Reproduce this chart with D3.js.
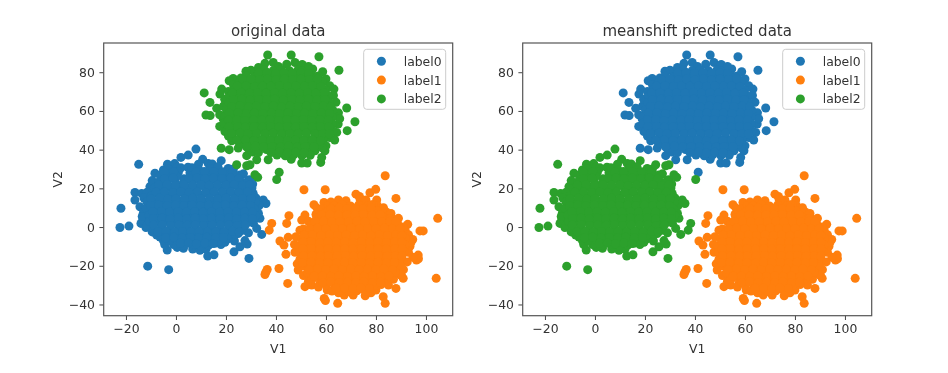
<!DOCTYPE html>
<html>
<head>
<meta charset="utf-8">
<script src="https://cdn.jsdelivr.net/npm/d3@7"></script>
<style>
body { margin: 0; background: #fff; }
svg { filter: blur(0.35px); }
text { font-family: "DejaVu Sans", sans-serif; fill: #333; }
</style>
</head>
<body>
<svg id="chart" width="948" height="373"></svg>
<script>
const xTicks = [-20, 0, 20, 40, 60, 80, 100];
const yTicks = [-40, -20, 0, 20, 40, 60, 80];
const labels = ["label0", "label1", "label2"];
const blueCol = "#1f77b4", orangeCol = "#ff7f0e", greenCol = "#2ca02c";

// values, blob edge first and then the dense middle row by row
const blobA = [
[-14.9,32.4],[-22,9.7],[-22.4,-0.2],[-18.8,0.5],[-11.3,-20.2],[-2.9,-22],[29.2,-16.2],[8,40.3],[2,36],[4.9,37.2],[10.7,35],[12.9,32.9],[18.1,34.3],
[-8.4,27.8],[-10.4,20.9],[-16.4,17.9],[-16.4,14],[-13.7,17.4],[-14.4,10.5],[-11,10],[-13.3,3.6],[-14,1.9],[-12,-0.2],[-7.7,-4.1],[-6.4,-5.2],[-3.5,-11.9],[0.5,-10.5],[6.7,-11.4],[9.6,-12],[12.7,-15],[15.2,-14.3],[15.6,-8.4],[19.6,-7.9],[23.2,-12.8],[25.6,-10.2],[28.5,-8.8],[27.6,-7],[24.9,-3.3],[27.2,-1.6],[34.3,-3.8],[32.3,-0.7],[33.6,4.5],[34.9,14],[36,12.2],[30.7,22.2],[30.9,17.4],[25.6,26.9],[20.9,30.3],[-1.7,31.2],[-5,29.5],[-6.4,22.6],[-9.7,16.6],[23.4,-7.2],[31.6,8.1],[33.2,11],
[-9.5,24],[-11.5,18],[-12.8,15],[-13,7.5],[-13.5,5.5],[-11.5,1],[-9.5,-2.5],[-5,-7],[-4.5,-9],[-1,-9],[3,-11],[12,-11.5],[18,-9],[21,-6],[29,-3],[31,2],[33,7],[32,15],[29.5,24.5],[27,27.5],[23,30],[14.5,32.6],[9,32.5],[-0.5,32.8],[-3.4,32.5],
[-3.1,30.2],[0.4,30.9],[2,30.6],[4.8,30.9],[1,28.4],[5.6,28],[3.2,25],[6.4,30.6],[9.2,29.7],[13.6,30.1],[16.8,31.2],[21.3,29.4],
[-6.3,26.8],[-2.5,27.4],[0.3,26.2],[6.9,26.9],[10.1,27.2],[13.2,26.4],[16.7,27.3],[20.2,26.8],[23.4,27.1],
[-6.8,23.4],[-3.4,23.9],[-0.1,22.8],[3.2,23.7],[6.6,23.1],[9.9,23.8],[13.1,22.9],[16.4,23.6],[19.9,23.2],[23.1,23.9],[26.4,23.1],[28.9,24.1],
[-8.6,20.1],[-5.2,19.7],[-1.9,20.4],[1.4,19.6],[4.9,20.2],[8.1,19.6],[11.6,20.4],[14.9,19.8],[18.2,20.3],[21.6,19.6],[24.9,20.4],[28.1,19.7],[30.4,20.2],
[-9.8,16.2],[-6.4,16.8],[-3.1,16.1],[0.2,16.9],[3.6,16.2],[6.9,16.8],[10.2,16.3],[13.6,16.9],[16.9,16.1],[20.3,16.7],[23.6,16.2],[26.9,16.8],[30.1,16.1],
[-11.6,13.1],[-8.3,12.8],[-4.9,13.4],[-1.6,12.7],[1.8,13.3],[5.1,12.8],[8.4,13.4],[11.8,12.7],[15.1,13.2],[18.4,12.9],[21.8,13.4],[25.2,12.7],[28.4,13.2],[31.7,12.9],
[-11.9,9.6],[-8.6,9.2],[-5.2,9.9],[-1.9,9.3],[1.4,9.8],[4.8,9.2],[8.1,9.7],[11.4,9.3],[14.8,9.9],[18.1,9.4],[21.4,9.7],[24.8,9.2],[28.1,9.8],[31.4,9.4],
[-10.8,6.1],[-7.4,5.8],[-4.1,6.4],[-0.8,5.7],[2.6,6.2],[5.9,5.8],[9.2,6.3],[12.6,5.7],[15.9,6.2],[19.2,5.9],[22.6,6.4],[25.9,5.7],[29.2,6.1],[31.9,5.8],
[-10.6,2.9],[-7.2,2.4],[-3.9,3.1],[-0.6,2.6],[2.8,3],[6.1,2.4],[9.4,2.9],[12.8,2.5],[16.1,3.1],[19.4,2.6],[22.8,2.9],[26.1,2.4],[29.4,2.8],
[-8.9,-0.9],[-5.6,-0.4],[-2.2,-1.1],[1.1,-0.5],[4.4,-0.9],[7.8,-0.4],[11.1,-1],[14.4,-0.6],[17.8,-0.9],[21.1,-0.4],[24.4,-1],[26.6,-0.6],
[-5.8,-4.1],[-2.4,-3.7],[0.9,-4.2],[4.2,-3.6],[7.6,-4.1],[10.9,-3.7],[14.2,-4.2],[17.6,-3.8],[20.9,-4.1],[23.6,-3.6],
[-2.8,-7.1],[0.6,-6.8],[3.9,-7.3],[7.2,-6.9],[10.6,-7.2],[13.9,-6.8],[17.2,-7.1],
[3.1,-9.6],[6.4,-9.1],[9.8,-9.8],[13.1,-9.3],
[-4.7,28.5],[-0.9,28.6],[8,28.4],[11.4,28.7],[15.2,28.5],[18.6,28.6],[22.6,28.3],
[-4.6,25],[-1.1,25.2],[5.2,25],[8.4,25.3],[11.6,24.9],[15,25.2],[18.4,25],[21.8,25.3],[25,24.9],
[-7,21.7],[-3.5,21.9],[-0.2,21.5],[3.3,21.8],[6.7,21.6],[10,21.9],[13.3,21.5],[16.6,21.8],[20,21.6],[23.3,21.9],[26.6,21.5],[29.4,21.8],
[-8,18],[-4.6,18.2],[-1.3,17.8],[2,18.1],[5.3,17.9],[8.6,18.2],[12,17.8],[15.3,18.1],[18.6,17.9],[22,18.2],[25.3,17.8],[28.6,18.1],
[-10,14.7],[-6.6,14.9],[-3.3,14.5],[0,14.8],[3.4,14.6],[6.7,14.9],[10,14.5],[13.4,14.8],[16.7,14.6],[20,14.9],[23.4,14.5],[26.7,14.8],[30,14.6],
[-10.2,11.2],[-6.9,11.4],[-3.5,11],[-0.2,11.3],[3.1,11.1],[6.5,11.4],[9.8,11],[13.1,11.3],[16.5,11.1],[19.8,11.4],[23.1,11],[26.5,11.3],[29.8,11.1],
[-9.2,7.8],[-5.8,8],[-2.5,7.6],[0.8,7.9],[4.2,7.7],[7.5,8],[10.8,7.6],[14.2,7.9],[17.5,7.7],[20.8,8],[24.2,7.6],[27.5,7.9],[30.6,7.7],
[-9,4.4],[-5.6,4.6],[-2.3,4.2],[1,4.5],[4.3,4.3],[7.6,4.6],[11,4.2],[14.3,4.5],[17.6,4.3],[21,4.6],[24.3,4.2],[27.6,4.5],[30.6,4.3],
[-9,1],[-5.4,1.2],[-2.1,0.8],[1.1,1.1],[4.5,0.9],[7.8,1.2],[11.1,0.8],[14.5,1.1],[17.8,0.9],[21.1,1.2],[24.5,0.8],[27.8,1.1],
[-7.2,-2.4],[-3.9,-2.2],[-0.6,-2.6],[2.7,-2.3],[6,-2.5],[9.3,-2.2],[12.7,-2.6],[16,-2.3],[19.3,-2.5],[22.6,-2.2],[25.3,-2.6],
[-4.1,-5.5],[-0.8,-5.3],[2.4,-5.7],[5.9,-5.4],[9.1,-5.6],[12.4,-5.3],[15.8,-5.7],[19,-5.4],
[1.8,-8.4],[5,-8.2],[8.2,-8.6],[11.6,-8.3],[14.8,-8.5]
];

const blobB = [
[83.7,26.5],[51.2,19.3],[59.7,19.3],[72,17],[73.4,15.8],[77.6,17.7],[79.9,19.5],[88,14.8],[80.3,14],[80.5,11.2],[55.2,11.5],[56.4,9.8],[59.2,12.7],[74.9,12.7],[73.6,14.6],[84,7.9],[82.4,8.6],[104.7,4.5],[45.2,5.9],[44.3,1.9],[51.6,6.2],[50.3,3.6],[49.6,-1.6],[44.9,-5.3],[41.6,-7.2],[43.2,-9.3],[44,-14.1],[41.2,-21.4],[36.5,-21.9],[35.6,-24.5],[36,-23.2],[44.7,-29.1],[48.9,-22.2],[51.6,-30.8],[54.3,-30],[57.6,-29.1],[59.3,-36.9],[59.8,-38],[64.7,-39.4],[67.3,-35.1],[70.9,-35.1],[75.7,-35.5],[82.9,-36],[83.7,-39.4],[88,-31.7],[90.9,-26.5],[90.2,-25],[104.1,-26.5],[96.9,-14.5],[96.2,-17],[94.7,-6.4],[93.6,-10],[97.6,-2],[98.9,-2],[92.7,1.4],[91.7,-1.6],[86.9,4],[88.6,1.9],[97,-16.4],[94.8,-15.6],
[62,13],[65,14],[68,13.6],[76,14],[79,11.5],[83,10],[86,7],[89,4.5],[91,0],[93,-4],[94,-8],[93,-13],[92.5,-18],[91,-22],[89.5,-24.5],[87,-27],[85,-30],[80,-32.5],[78,-34],[65,-34],[60.5,-32.5],[57,-31],[53,-28],[51,-25],[48.5,-19],[47.6,-13],[47.4,-9],[48,-5],[51,-1],[53,3],[56,6.5],[58.5,9.5],[61,11],
[63.2,11.2],[66.4,11.6],[69.8,10.9],[73.1,11.4],[76.6,10.8],[78.2,11.5],
[60.4,8.1],[63.8,7.8],[67.1,8.4],[70.4,7.9],[73.8,8.3],[77.1,7.7],[80.6,8.2],
[56.3,4.7],[59.6,4.2],[62.9,4.8],[66.2,4.3],[69.6,4.9],[72.9,4.2],[76.2,4.7],[79.6,4.3],[82.9,4.8],[85.6,4.4],
[54.2,1.2],[57.6,0.7],[60.9,1.3],[64.2,0.8],[67.6,1.2],[70.9,0.7],[74.2,1.3],[77.6,0.8],[80.9,1.2],[84.2,0.7],[87.6,1.1],[89.1,0.6],
[52.4,-2.6],[55.8,-2.2],[59.1,-2.8],[62.4,-2.3],[65.8,-2.7],[69.1,-2.2],[72.4,-2.8],[75.8,-2.4],[79.1,-2.7],[82.4,-2.2],[85.8,-2.6],[89.4,-2.3],
[50.3,-6.1],[53.6,-5.7],[56.9,-6.2],[60.3,-5.8],[63.6,-6.3],[66.9,-5.7],[70.3,-6.2],[73.6,-5.8],[76.9,-6.1],[80.3,-5.7],[83.6,-6.3],[86.9,-5.8],[90.1,-6.2],[91.8,-5.9],
[49.2,-9.7],[52.6,-9.2],[55.9,-9.8],[59.2,-9.3],[62.6,-9.7],[65.9,-9.2],[69.2,-9.8],[72.6,-9.4],[75.9,-9.6],[79.2,-9.2],[82.6,-9.8],[85.9,-9.3],[89.2,-9.7],[91.6,-9.2],
[49.4,-13.1],[52.8,-12.7],[56.1,-13.3],[59.4,-12.8],[62.8,-13.2],[66.1,-12.7],[69.4,-13.3],[72.8,-12.9],[76.1,-13.1],[79.4,-12.7],[82.8,-13.3],[86.1,-12.8],[89.4,-13.2],[91.2,-12.7],
[49.6,-16.6],[52.9,-16.2],[56.2,-16.7],[59.6,-16.3],[62.9,-16.8],[66.2,-16.2],[69.6,-16.7],[72.9,-16.3],[76.2,-16.6],[79.6,-16.2],[82.9,-16.8],[86.2,-16.3],[89.6,-16.7],
[51.4,-20.2],[54.7,-19.8],[58.1,-20.3],[61.4,-19.9],[64.7,-20.4],[68.1,-19.8],[71.4,-20.2],[74.7,-19.9],[78.1,-20.3],[81.4,-19.8],[84.7,-20.2],[88.1,-19.9],[90,-20.4],
[52.6,-23.6],[55.9,-23.2],[59.2,-23.8],[62.6,-23.3],[65.9,-23.7],[69.2,-23.2],[72.6,-23.8],[75.9,-23.4],[79.2,-23.6],[82.6,-23.2],[85.9,-23.8],[87.8,-23.3],
[54.4,-27.1],[57.7,-26.7],[61.1,-27.2],[64.4,-26.8],[67.7,-27.3],[71.1,-26.7],[74.4,-27.2],[77.7,-26.8],[81.1,-27.1],[84.1,-26.7],
[60.2,-30.2],[63.6,-29.8],[66.9,-30.3],[70.2,-29.9],[73.6,-30.4],[76.9,-29.8],[80.2,-30.2],[82.1,-29.7],
[62.4,-33.1],[65.7,-32.8],[69.1,-33.3],[72.4,-32.9],[75.7,-33.2],
[62,9.6],[65.2,9.8],[68.4,9.4],[71.8,9.7],[75,9.5],[78,9.8],
[58.2,6.3],[61.6,6.5],[65,6.1],[68.4,6.4],[71.6,6.2],[75,6.5],[78.4,6.1],[81.6,6.4],
[55.6,2.8],[59,3],[62.4,2.6],[65.6,2.9],[69,2.7],[72.4,3],[75.6,2.6],[79,2.9],[82.4,2.7],[85.6,3],[88,2.6],
[53.4,-0.8],[56.6,-0.6],[60,-1],[63.4,-0.7],[66.6,-0.9],[70,-0.6],[73.4,-1],[76.6,-0.7],[80,-0.9],[83.4,-0.6],[86.6,-1],[89.6,-0.7],
[51.2,-4.2],[54.6,-4],[58,-4.4],[61.4,-4.1],[64.6,-4.3],[68,-4],[71.4,-4.4],[74.6,-4.1],[78,-4.3],[81.4,-4],[84.6,-4.4],[88,-4.1],[90.4,-4.3],
[50.8,-7.8],[54.2,-7.6],[57.6,-8],[60.8,-7.7],[64.2,-7.9],[67.6,-7.6],[70.8,-8],[74.2,-7.7],[77.6,-7.9],[80.8,-7.6],[84.2,-8],[87.6,-7.7],[90.4,-7.9],
[50.8,-11.3],[54.2,-11.1],[57.6,-11.5],[60.8,-11.2],[64.2,-11.4],[67.6,-11.1],[70.8,-11.5],[74.2,-11.2],[77.6,-11.4],[80.8,-11.1],[84.2,-11.5],[87.6,-11.2],[90.4,-11.4],
[51,-14.9],[54.4,-14.7],[57.8,-15.1],[61,-14.8],[64.4,-15],[67.8,-14.7],[71,-15.1],[74.4,-14.8],[77.8,-15],[81,-14.7],[84.4,-15.1],[87.8,-14.8],[90.4,-15],
[50.6,-18.4],[54,-18.2],[57.4,-18.6],[60.8,-18.3],[64.2,-18.5],[67.4,-18.2],[70.8,-18.6],[74.2,-18.3],[77.4,-18.5],[80.8,-18.2],[84.2,-18.6],[87.4,-18.3],
[53.2,-21.9],[56.6,-21.7],[60,-22.1],[63.2,-21.8],[66.6,-22],[70,-21.7],[73.2,-22.1],[76.6,-21.8],[80,-22],[83.2,-21.7],[86.6,-22.1],
[55.2,-25.4],[58.6,-25.2],[62,-25.6],[65.2,-25.3],[68.6,-25.5],[72,-25.2],[75.2,-25.6],[78.6,-25.3],[82,-25.5],[85.2,-25.2],
[58.8,-28.6],[62,-28.4],[65.2,-28.8],[68.6,-28.5],[72,-28.7],[75.2,-28.4],[78.6,-28.8],[81.8,-28.5],
[64,-31.6],[67.4,-31.4],[70.8,-31.8],[74,-31.5],[77.4,-31.7]
];

const blobC = [
[36.7,88.9],[46.1,88.9],[57.2,88],[65.2,81],[58.7,80.3],[54.7,81.7],[63.2,71.3],[68.3,61.5],[71.6,54.4],[68.5,49.8],[11.3,69.3],[13.6,64.4],[12,57.9],[13.7,57.6],[17.6,68.7],[22.9,76.8],[21.3,75.6],[18.3,71.3],[16.3,61.4],[18.1,40.7],[21.3,40],[24.9,40.8],[28.3,36.9],[32.3,34.8],[41.3,28.3],[36.9,34.8],[46.1,35],[50.3,33.1],[52.5,33.1],[57.9,33.4],[58.3,36],[55.6,39.4],[59.6,39.4],[35.6,84.6],[38.9,85],[47.6,85],[44.3,84.1],[63.6,57.5],[64.9,53.2],[64.3,48.9],[61.6,46.3],[58.9,44.6],[18.9,55.8],[19.6,49.4],[22.3,44.6],[30.6,38.8],[33.1,41.2],[26.4,72.8],
[30,81],[33,82.5],[41,83],[50.5,84],[53,83],[57,78],[60,76.5],[61.5,73],[63,68],[64,64.5],[65,59],[65.5,56],[63.5,45],[60,42],[58.5,41],[33,38.5],[29,40.5],[25.5,43],[21,47],[17.5,52],[17.5,58],[19,62.5],[19.5,66],[21,70],[23,73.5],[26,77],[28,80.5],
[35.4,81.1],[38.8,80.7],[42.1,81.3],[45.4,80.8],[48.8,81.2],[50.4,80.6],
[28.1,78.1],[31.4,77.7],[34.8,78.3],[38.1,77.8],[41.4,78.2],[44.8,77.7],[48.1,78.3],[51.4,77.9],[54.8,78.1],[56.2,77.6],
[25.3,74.6],[28.6,74.2],[31.9,74.8],[35.3,74.3],[38.6,74.7],[41.9,74.2],[45.3,74.8],[48.6,74.4],[51.9,74.6],[55.3,74.2],[58.6,74.8],
[23.2,71.1],[26.6,70.7],[29.9,71.3],[33.2,70.8],[36.6,71.2],[39.9,70.7],[43.2,71.3],[46.6,70.9],[49.9,71.1],[53.2,70.7],[56.6,71.3],[59.9,70.8],
[21.4,67.6],[24.8,67.2],[28.1,67.8],[31.4,67.3],[34.8,67.7],[38.1,67.2],[41.4,67.8],[44.8,67.4],[48.1,67.6],[51.4,67.2],[54.8,67.8],[58.1,67.3],[60.9,67.7],
[21.2,64.1],[24.6,63.7],[27.9,64.3],[31.2,63.8],[34.6,64.2],[37.9,63.7],[41.2,64.3],[44.6,63.9],[47.9,64.1],[51.2,63.7],[54.6,64.3],[57.9,63.8],[61.4,64.2],
[20.2,60.6],[23.6,60.2],[26.9,60.8],[30.2,60.3],[33.6,60.7],[36.9,60.2],[40.2,60.8],[43.6,60.4],[46.9,60.6],[50.2,60.2],[53.6,60.8],[56.9,60.3],[60.2,60.7],[62.8,60.2],
[19.4,57.1],[22.8,56.7],[26.1,57.3],[29.4,56.8],[32.8,57.2],[36.1,56.7],[39.4,57.3],[42.8,56.9],[46.1,57.1],[49.4,56.7],[52.8,57.3],[56.1,56.8],[59.4,57.2],[62.6,56.7],
[19.2,53.6],[22.6,53.2],[25.9,53.8],[29.2,53.3],[32.6,53.7],[35.9,53.2],[39.2,53.8],[42.6,53.4],[45.9,53.6],[49.2,53.2],[52.6,53.8],[55.9,53.3],[59.2,53.7],[62.6,53.2],
[20.4,50.1],[23.8,49.7],[27.1,50.3],[30.4,49.8],[33.8,50.2],[37.1,49.7],[40.4,50.3],[43.8,49.9],[47.1,50.1],[50.4,49.7],[53.8,50.3],[57.1,49.8],[60.4,50.2],[62.8,49.7],
[22.4,46.6],[25.8,46.2],[29.1,46.8],[32.4,46.3],[35.8,46.7],[39.1,46.2],[42.4,46.8],[45.8,46.4],[49.1,46.6],[52.4,46.2],[55.8,46.8],[59.1,46.3],
[26.3,43.1],[29.6,42.7],[33.9,43.3],[37.3,42.8],[40.6,43.2],[43.9,42.7],[47.3,43.3],[50.6,42.9],[53.9,43.1],[57.3,42.7],
[36.2,40.1],[39.6,39.7],[42.9,40.3],[46.2,39.8],[49.6,40.2],[52.9,39.7],
[40.4,37.2],[43.7,36.8],[47.1,37.3],[50.4,36.9],[53.7,37.1],
[33,79.6],[36.4,79.8],[39.8,79.4],[43.2,79.7],[46.6,79.5],[50,79.8],[53,79.4],
[26.8,76.3],[30,76.5],[33.4,76.1],[36.6,76.4],[40,76.2],[43.4,76.5],[46.6,76.1],[50,76.4],[53.4,76.2],[56.6,76.5],
[24.6,72.8],[28,73],[31.4,72.6],[34.6,72.9],[38,72.7],[41.4,73],[44.6,72.6],[48,72.9],[51.4,72.7],[54.6,73],[58,72.6],
[22.6,69.3],[26,69.5],[29.4,69.1],[32.6,69.4],[36,69.2],[39.4,69.5],[42.6,69.1],[46,69.4],[49.4,69.2],[52.6,69.5],[56,69.1],[59.4,69.4],
[23,65.8],[26.4,66],[29.6,65.6],[33,65.9],[36.4,65.7],[39.6,66],[43,65.6],[46.4,65.9],[49.6,65.7],[53,66],[56.4,65.6],[59.6,65.9],
[22.2,62.3],[25.6,62.5],[29,62.1],[32.2,62.4],[35.6,62.2],[39,62.5],[42.2,62.1],[45.6,62.4],[49,62.2],[52.2,62.5],[55.6,62.1],[59,62.4],[62,62.2],
[21.4,58.8],[24.8,59],[28.2,58.6],[31.4,58.9],[34.8,58.7],[38.2,59],[41.4,58.6],[44.8,58.9],[48.2,58.7],[51.4,59],[54.8,58.6],[58.2,58.9],[61.4,58.7],
[21,55.3],[24.4,55.5],[27.6,55.1],[31,55.4],[34.4,55.2],[37.6,55.5],[41,55.1],[44.4,55.4],[47.6,55.2],[51,55.5],[54.4,55.1],[57.6,55.4],[61,55.2],
[21.2,51.8],[24.6,52],[27.8,51.6],[31.2,51.9],[34.6,51.7],[37.8,52],[41.2,51.6],[44.6,51.9],[47.8,51.7],[51.2,52],[54.6,51.6],[57.8,51.9],[61.2,51.7],
[22.2,48.3],[25.6,48.5],[28.8,48.1],[32.2,48.4],[35.6,48.2],[38.8,48.5],[42.2,48.1],[45.6,48.4],[48.8,48.2],[52.2,48.5],[55.6,48.1],[58.8,48.4],[61.4,48.2],
[24.4,44.8],[27.8,45],[31.2,44.6],[34.6,44.9],[37.8,44.7],[41.2,45],[44.6,44.6],[47.8,44.9],[51.2,44.7],[54.6,45],[57.8,44.6],
[28.2,41.5],[31.8,41.7],[35,41.3],[38.4,41.6],[41.8,41.4],[45,41.7],[48.4,41.3],[51.6,41.6],[55.2,41.4],
[38,38.5],[41.4,38.7],[44.6,38.3],[48,38.6],[51.2,38.4]
];

// these read as the neighbouring cluster in the predicted panel
const movedFromC = [[24.3,32.2],[28.3,31.7],[29.6,32.2],[31.6,27],[32.7,25.7],[40.3,24.6]];
const movedFromB = [[38.3,1.9],[37.3,-1.6]];

const svg = d3.select("#chart");

function drawPanel(left, title, series){
    let w = 349;
    let h = 272.7;
    let top = 43;
    let g = svg.append("g").attr("transform", "translate(" + left + "," + top + ")");

    let x = d3.scaleLinear().domain([-28.9, 110.7]).range([0, w]);
    let y = d3.scaleLinear().domain([-45.8, 95.1]).range([h, 0]);

    series.forEach(s => {
        g.append("g")
            .selectAll("circle")
            .data(s.points)
            .enter()
            .append("circle")
            .attr("cx", d => x(d[0]))
            .attr("cy", d => y(d[1]))
            .attr("r", 4.5)
            .attr("fill", s.color);
    });

    let xAxis = g.append("g")
        .attr("transform", "translate(0," + h + ")")
        .call(d3.axisBottom(x).tickValues(xTicks).tickSize(4.3).tickPadding(4.5));
    let yAxis = g.append("g")
        .call(d3.axisLeft(y).tickValues(yTicks).tickSize(4.3).tickPadding(4.5));
    [xAxis, yAxis].forEach(a => {
        a.selectAll("text").attr("font-size", 12.4).attr("font-family", null);
        a.selectAll("line").attr("stroke", "#444").attr("stroke-width", 1);
        a.select(".domain").remove();
    });

    g.append("rect")
        .attr("width", w)
        .attr("height", h)
        .attr("fill", "none")
        .attr("stroke", "#555")
        .attr("stroke-width", 1.2);

    g.append("text")
        .attr("x", w / 2)
        .attr("y", -7)
        .attr("text-anchor", "middle")
        .attr("font-size", 15)
        .text(title);
    g.append("text")
        .attr("x", w / 2)
        .attr("y", h + 37)
        .attr("text-anchor", "middle")
        .attr("font-size", 12.4)
        .text("V1");
    g.append("text")
        .attr("transform", "translate(-42," + (h / 2) + ") rotate(-90)")
        .attr("text-anchor", "middle")
        .attr("font-size", 12.4)
        .text("V2");

    // legend
    let legend = g.append("g").attr("transform", "translate(" + (w - 89) + ",6.3)");
    legend.append("rect")
        .attr("width", 82)
        .attr("height", 60)
        .attr("rx", 3)
        .attr("fill", "#fff")
        .attr("fill-opacity", 0.8)
        .attr("stroke", "#ccc")
        .attr("stroke-width", 1);
    labels.forEach((d, i) => {
        let c = series.find(s => s.label == d);
        legend.append("circle")
            .attr("cx", 17.7)
            .attr("cy", 12 + i * 18.8)
            .attr("r", 4.5)
            .attr("fill", c.color);
        legend.append("text")
            .attr("x", 40)
            .attr("y", 16.5 + i * 18.8)
            .attr("font-size", 12.4)
            .text(d);
    });
}

drawPanel(103.7, "original data", [
    {label: "label0", color: blueCol, points: blobA},
    {label: "label1", color: orangeCol, points: blobB.concat(movedFromB)},
    {label: "label2", color: greenCol, points: blobC.concat(movedFromC)}
]);

drawPanel(522.7, "meanshift predicted data", [
    {label: "label0", color: blueCol, points: blobC},
    {label: "label1", color: orangeCol, points: blobB},
    {label: "label2", color: greenCol, points: blobA.concat(movedFromC, movedFromB)}
]);
</script>
</body>
</html>
